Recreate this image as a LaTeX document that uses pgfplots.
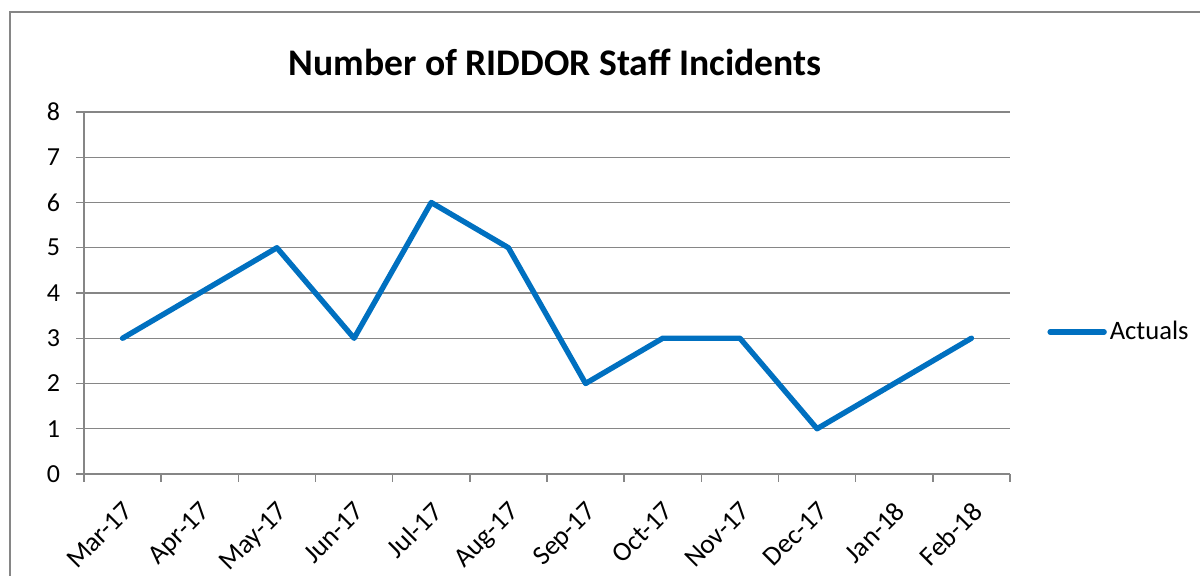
\documentclass[border=0pt]{standalone}
\usepackage{fontspec}
\setmainfont{Carlito}
\usepackage{pgfplots}
\pgfplotsset{compat=1.18}
\definecolor{xlblue}{RGB}{0,112,192}
\definecolor{xlgray}{RGB}{134,134,134}
\begin{document}
\begin{tikzpicture}
\path[use as bounding box] (0pt,0pt) rectangle (600pt,288pt);
\draw[xlgray, line width=0.8pt] (5pt,-1pt) -- (5pt,282pt) -- (601pt,282pt);
\node[font=\fontsize{18.8}{22}\selectfont\bfseries] at (277.5pt,257pt) {Number of RIDDOR Staff Incidents};
\begin{axis}[
  at={(42pt,51pt)}, anchor=south west,
  width=463pt, height=181pt, scale only axis,
  xmin=-0.5, xmax=11.5, ymin=0, ymax=8,
  ytick={0,...,8},
  xtick={-0.5,0.5,...,11.5},
  xticklabels={},
  extra x ticks={0,...,11},
  extra x tick labels={Mar-17,Apr-17,May-17,Jun-17,Jul-17,Aug-17,Sep-17,Oct-17,Nov-17,Dec-17,Jan-18,Feb-18},
  extra x tick style={major tick length=0pt, grid=none,
    xticklabel style={rotate=45, anchor=north east, xshift=-6pt, yshift=-5.5pt, font=\fontsize{13.6}{16}\selectfont}},
  /pgf/number format/assume math mode=true,
  ticklabel style={font=\fontsize{13}{15}\selectfont},
  yticklabel style={xshift=-4.5pt},
  axis lines=left,
  axis line style={-, xlgray, line width=0.7pt},
  tick align=outside,
  major tick length=4pt,
  tick style={xlgray, line width=0.7pt},
  ymajorgrids,
  grid style={xlgray, line width=0.7pt},
  legend style={at={(1.040,0.392)}, anchor=west, draw=none, fill=none, inner sep=0pt,
    font=\fontsize{13.3}{15}\selectfont, nodes={inner xsep=1.5pt}},
  legend image code/.code={\draw[#1, line cap=round] (0pt,0pt) -- (27pt,0pt);},
]
\addplot[xlblue, line width=2.7pt, line join=round, line cap=round] coordinates {
(0,3) (1,4) (2,5) (3,3) (4,6) (5,5) (6,2) (7,3) (8,3) (9,1) (10,2) (11,3)};
\addlegendentry{Actuals}
\end{axis}
\end{tikzpicture}
\end{document}
